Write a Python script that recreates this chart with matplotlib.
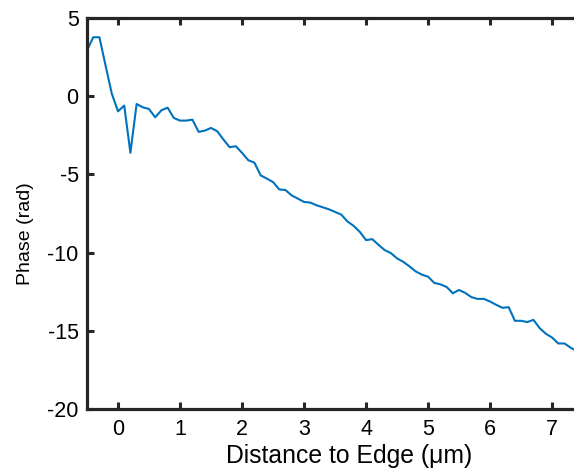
import matplotlib
matplotlib.use("Agg")
import matplotlib.pyplot as plt
import numpy as np

distance_um = [-0.5, -0.4, -0.3, -0.2, -0.1, 0.0, 0.1, 0.2, 0.3, 0.4, 0.5, 0.6, 0.7, 0.8, 0.9,
               1.0, 1.1, 1.2, 1.3, 1.4, 1.5, 1.6, 1.7, 1.8, 1.9,
               2.0, 2.1, 2.2, 2.3, 2.4, 2.5, 2.6, 2.7, 2.8, 2.9,
               3.0, 3.1, 3.2, 3.3, 3.4, 3.5, 3.6, 3.7, 3.8, 3.9,
               4.0, 4.1, 4.2, 4.3, 4.4, 4.5, 4.6, 4.7, 4.8, 4.9,
               5.0, 5.1, 5.2, 5.3, 5.4, 5.5, 5.6, 5.7, 5.8, 5.9,
               6.0, 6.1, 6.2, 6.3, 6.4, 6.5, 6.6, 6.7, 6.8, 6.9,
               7.0, 7.1, 7.2, 7.3, 7.4]
phase_rad = [2.92, 3.77, 3.77, 1.95, 0.16, -0.97, -0.6, -3.62, -0.5, -0.71, -0.82, -1.35, -0.9, -0.73, -1.39,
             -1.56, -1.56, -1.5, -2.28, -2.2, -2.03, -2.24, -2.77, -3.26, -3.2,
             -3.62, -4.09, -4.25, -5.06, -5.27, -5.49, -5.96, -6.0, -6.34, -6.55,
             -6.76, -6.8, -6.97, -7.1, -7.23, -7.4, -7.57, -8.01, -8.29, -8.68,
             -9.2, -9.14, -9.5, -9.84, -10.03, -10.37, -10.59, -10.88, -11.2, -11.41,
             -11.54, -11.94, -12.03, -12.2, -12.6, -12.39, -12.58, -12.85, -12.96, -12.96,
             -13.13, -13.34, -13.53, -13.49, -14.36, -14.36, -14.44, -14.3, -14.83, -15.19,
             -15.43, -15.81, -15.81, -16.08, -16.3]
x_ticks = [0, 1, 2, 3, 4, 5, 6, 7]
y_ticks = [5, 0, -5, -10, -15, -20]

plt.rcParams['font.family'] = ['Liberation Sans', 'DejaVu Sans']
plt.rcParams['axes.unicode_minus'] = False

fig = plt.figure(figsize=(5.74, 4.70), dpi=100)
fig.patch.set_facecolor('white')
ax_w_px = 611 - 87
ax_h_px = 409 - 18
ax = fig.add_axes([87/574, 1 - 409/470, ax_w_px/574, ax_h_px/470])

ax.plot(distance_um, phase_rad, color='#0072BD', linewidth=1.5)

ax.set_xlim(-0.5, 7.95)
ax.set_ylim(-20, 5)
ax.set_xticks(x_ticks)
ax.set_yticks(y_ticks)
ax.set_xticklabels([str(t) for t in x_ticks])
ax.set_yticklabels([str(t) for t in y_ticks])

for s in ax.spines.values():
    s.set_linewidth(2.3)
    s.set_color('#262626')
ax.tick_params(direction='in', length=5, width=2.2, labelsize=15.5, color='#262626',
               top=True, right=False)
ax.tick_params(axis='x', pad=7)
ax.tick_params(axis='y', pad=6)
ax.set_xlabel('Distance to Edge (μm)', fontsize=17.8)
ax.set_ylabel('Phase (rad)', fontsize=14)
ax.xaxis.set_label_coords(0.5, -(443.5 - 409) / ax_h_px)
ax.yaxis.set_label_coords((34 - 87) / ax_w_px, (409 - 234) / ax_h_px)

fig.savefig('out.png', dpi=100)
